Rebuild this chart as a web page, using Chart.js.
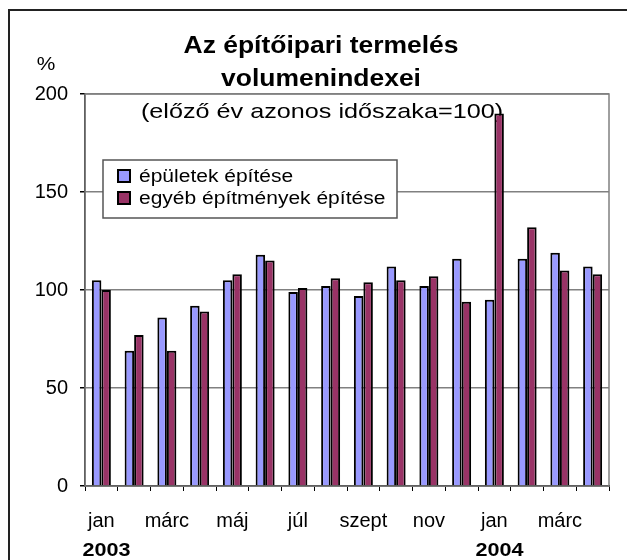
<!DOCTYPE html>
<html>
<head>
<meta charset="utf-8">
<script src="https://cdn.jsdelivr.net/npm/chart.js@4/dist/chart.umd.min.js"></script>
<style>
  body { margin: 0; background: #fff; }
  #wrap { width: 627px; height: 560px; }
</style>
</head>
<body>
<div id="wrap"><canvas id="chart" width="627" height="560"></canvas></div>
<script>
// havi adatok, 2003 jan - 2004 ápr
const months = ['jan', 'febr', 'márc', 'ápr', 'máj', 'jún', 'júl', 'aug', 'szept', 'okt', 'nov', 'dec', 'jan', 'febr', 'márc', 'ápr'];
const epuletek = [105, 69, 86, 92, 105, 118, 99, 102, 97, 112, 102, 116, 95, 116, 119, 112];
const egyeb = [100, 77, 69, 89, 108, 115, 101, 106, 104, 105, 107, 94, 190, 132, 110, 108];
const seriesNames = ['épületek építése', 'egyéb építmények építése'];
const years = ['2003', '2004'];
const yearIndex = [0, 12];
const titleLines = ['Az építőipari termelés', 'volumenindexei'];
const subtitle = '(előző év azonos időszaka=100)';

const FONT = 'Arial, "Liberation Sans", sans-serif';
Chart.defaults.font.family = FONT;
Chart.defaults.color = '#000';

// Excel-szerű, kissé szélesített szöveg
function wideText(ctx, text, x, y, font, align, sx) {
    ctx.save();
    ctx.font = font;
    ctx.fillStyle = '#000';
    ctx.textAlign = align;
    ctx.textBaseline = 'alphabetic';
    ctx.translate(x, y);
    ctx.scale(sx || 1.2, 1);
    ctx.fillText(text, 0, 0);
    ctx.restore();
}

const decor = {
    id: 'decor',
    beforeDatasetsDraw(chart) {
        const ctx = chart.ctx;
        const a = chart.chartArea;
        // plot area keret (szürke)
        ctx.save();
        ctx.strokeStyle = '#808080';
        ctx.lineWidth = 1.5;
        ctx.strokeRect(a.left, a.top, a.right - a.left, a.bottom - a.top);
        ctx.restore();
        wideText(ctx, subtitle, 322, 118, '21px ' + FONT, 'center');
    },
    afterDraw(chart) {
        const ctx = chart.ctx;
        const x = chart.scales.x;

        wideText(ctx, titleLines[0], 321, 53, 'bold 23px ' + FONT, 'center', 1.15);
        wideText(ctx, titleLines[1], 321, 86, 'bold 23px ' + FONT, 'center', 1.15);
        wideText(ctx, '%', 46, 70, '19px ' + FONT, 'center', 1.1);

        years.forEach((y, i) => {
            wideText(ctx, y, x.getPixelForValue(yearIndex[i]) - 19, 556, 'bold 18px ' + FONT, 'left');
        });

        // jelmagyarázat
        ctx.save();
        ctx.fillStyle = '#fff';
        ctx.fillRect(103, 160, 294, 58);
        ctx.strokeStyle = '#555';
        ctx.lineWidth = 1.5;
        ctx.strokeRect(103, 160, 294, 58);
        chart.data.datasets.forEach((ds, i) => {
            const cy = 176 + i * 22;
            ctx.fillStyle = ds.backgroundColor;
            ctx.fillRect(118, cy - 6, 12, 12);
            ctx.strokeStyle = '#000';
            ctx.lineWidth = 2;
            ctx.strokeRect(118, cy - 6, 12, 12);
            wideText(ctx, ds.label, 139, cy + 6, '17.5px ' + FONT, 'left');
        });
        ctx.restore();

        // külső keret
        ctx.save();
        ctx.strokeStyle = '#222';
        ctx.lineWidth = 2;
        ctx.strokeRect(9, 10, 700, 700);
        ctx.restore();
    }
};

new Chart(document.getElementById('chart'), {
    type: 'bar',
    data: {
        labels: months,
        datasets: [
            {
                label: seriesNames[0],
                data: epuletek,
                backgroundColor: '#9999FF',
                borderColor: '#000',
                borderWidth: 2
            },
            {
                label: seriesNames[1],
                data: egyeb,
                backgroundColor: '#993366',
                borderColor: '#000',
                borderWidth: 2
            }
        ]
    },
    options: {
        responsive: false,
        animation: false,
        layout: {padding: {left: 0, top: 94, right: 18, bottom: 0}},
        datasets: {bar: {barPercentage: 1, categoryPercentage: 0.58}},
        plugins: {
            legend: {display: false},
            title: {display: false},
            tooltip: {enabled: false}
        },
        scales: {
            x: {
                afterFit: s => { s.height = 74; },
                grid: {drawOnChartArea: false, tickLength: 5, tickColor: '#000', offset: true},
                border: {color: '#000', width: 1.5},
                ticks: {
                    autoSkip: false,
                    maxRotation: 0,
                    padding: 18,
                    font: {size: 20},
                    callback: (v, i) => i % 2 === 0 ? months[i] : ''
                }
            },
            y: {
                min: 0,
                max: 200,
                afterFit: s => { s.width = 85; },
                grid: {color: '#808080', lineWidth: 1.5, tickLength: 5, tickColor: '#000'},
                border: {color: '#000', width: 1.5},
                ticks: {stepSize: 50, padding: 12, font: {size: 20}}
            }
        }
    },
    plugins: [decor]
});
</script>
</body>
</html>
